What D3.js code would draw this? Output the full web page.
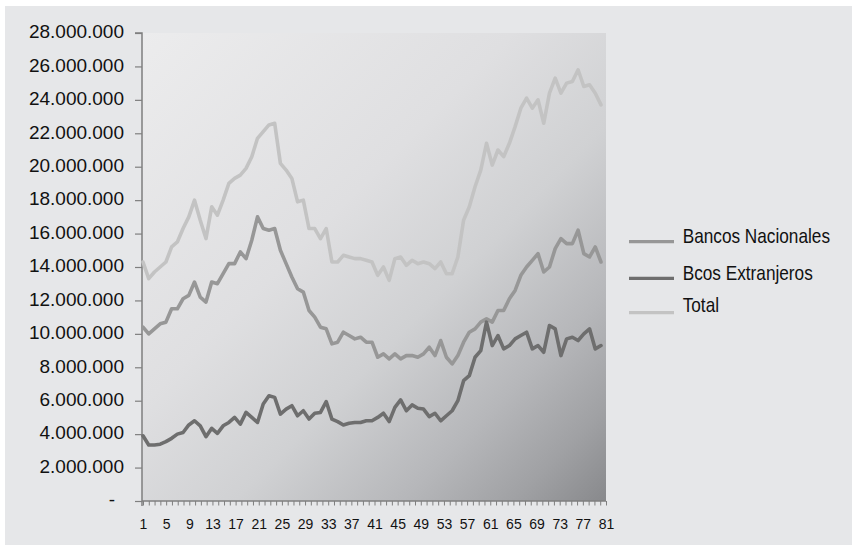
<!DOCTYPE html>
<html>
<head>
<meta charset="utf-8">
<script src="https://cdn.jsdelivr.net/npm/d3@7"></script>
<style>
  html, body { margin: 0; padding: 0; background: #ffffff; }
  svg { display: block; }
  text { font-family: "Liberation Sans", Arial, sans-serif; fill: #111; }
</style>
</head>
<body>
<svg id="chart" width="852" height="550"></svg>
<script>
// Periods 1..81
const periods = d3.range(1, 82);

// Deposits by bank group (millions, scaled to units below)
const bancosNacionales = [
  10.4, 10.0, 10.3, 10.6, 10.7, 11.5, 11.5, 12.1, 12.3, 13.1,
  12.2, 11.9, 13.1, 13.0, 13.6, 14.2, 14.2, 14.9, 14.5, 15.6,
  17.0, 16.3, 16.2, 16.3, 15.0, 14.2, 13.4, 12.7, 12.5, 11.4,
  11.0, 10.4, 10.3, 9.4, 9.5, 10.1, 9.9, 9.7, 9.8, 9.5,
  9.5, 8.6, 8.8, 8.5, 8.8, 8.5, 8.7, 8.7, 8.6, 8.8,
  9.2, 8.7, 9.6, 8.6, 8.2, 8.7, 9.5, 10.1, 10.3, 10.7,
  10.9, 10.7, 11.4, 11.4, 12.1, 12.6, 13.5, 14.0, 14.4, 14.8,
  13.7, 14.0, 15.1, 15.7, 15.4, 15.4, 16.2, 14.8, 14.6, 15.2,
  14.3
].map(v => v * 1e6);

const bcosExtranjeros = [
  3.9, 3.35, 3.35, 3.4, 3.55, 3.75, 4.0, 4.1, 4.55, 4.8,
  4.5, 3.85, 4.35, 4.05, 4.5, 4.7, 5.0, 4.6, 5.3, 5.0,
  4.7, 5.8, 6.3, 6.2, 5.2, 5.5, 5.7, 5.1, 5.4, 4.9,
  5.25, 5.3, 5.95, 4.9, 4.75, 4.55, 4.65, 4.7, 4.7, 4.8,
  4.8, 5.0, 5.25, 4.75, 5.6, 6.05, 5.4, 5.75, 5.55, 5.5,
  5.05, 5.25, 4.8, 5.1, 5.4, 6.0, 7.2, 7.5, 8.6, 9.0,
  10.7, 9.3, 9.9, 9.1, 9.3, 9.7, 9.9, 10.1, 9.1, 9.3,
  8.9, 10.5, 10.3, 8.7, 9.7, 9.8, 9.6, 10.0, 10.3, 9.1,
  9.3
].map(v => v * 1e6);

const total = [
  14.3, 13.3, 13.7, 14.0, 14.3, 15.2, 15.5, 16.3, 17.0, 18.0,
  16.8, 15.7, 17.6, 17.1, 18.0, 19.0, 19.3, 19.5, 19.9, 20.6,
  21.7, 22.1, 22.5, 22.6, 20.2, 19.8, 19.3, 17.9, 18.0, 16.3,
  16.3, 15.7, 16.3, 14.3, 14.3, 14.7, 14.6, 14.5, 14.5, 14.4,
  14.3, 13.5, 14.0, 13.2, 14.5, 14.6, 14.1, 14.4, 14.2, 14.3,
  14.2, 13.9, 14.3, 13.6, 13.6, 14.6, 16.8, 17.6, 18.8, 19.8,
  21.4, 20.1, 21.0, 20.6, 21.4, 22.4, 23.5, 24.1, 23.5, 24.0,
  22.6, 24.4, 25.3, 24.4, 25.0, 25.1, 25.8, 24.8, 24.9, 24.4,
  23.7
].map(v => v * 1e6);

const seriesNames = ["Bancos Nacionales", "Bcos Extranjeros", "Total"];
const seriesColors = ["#979797", "#6e6e6e", "#c3c3c3"];

// Axis ticks
const yTicks = d3.range(0, 28000001, 2000000);
const xTicks = d3.range(1, 82);
const xLabelTicks = d3.range(1, 82, 4);

const svg = d3.select("#chart");

// Chart panel
svg.append("rect")
  .attr("x", 5).attr("y", 6).attr("width", 847).attr("height", 539)
  .attr("fill", "#e6e7e9");

const plot = { left: 142, top: 33, right: 606, bottom: 501 };

// Point positions and category-axis positions
const x = d3.scaleLinear().domain([1, 81]).range([143, 601]);
const xAxisScale = d3.scaleLinear().domain([1, 81]).range([143, 606]);
const y = d3.scaleLinear().domain([0, 28000000]).range([plot.bottom, plot.top]);

// Plot-area shading
const defs = svg.append("defs");
const grad = defs.append("linearGradient")
  .attr("id", "plotShade")
  .attr("x1", 0).attr("y1", 0).attr("x2", 1).attr("y2", 1);
[[0, "#ececed"], [0.4, "#dfdfe1"], [0.6, "#d0d1d3"], [0.78, "#b6b7ba"], [0.9, "#a0a1a4"], [1, "#88898c"]]
  .forEach(([o, c]) => grad.append("stop").attr("offset", o).attr("stop-color", c));

svg.append("rect")
  .attr("x", plot.left).attr("y", plot.top)
  .attr("width", plot.right - plot.left).attr("height", plot.bottom - plot.top)
  .attr("fill", "url(#plotShade)");

// Y axis
const loc = d3.formatLocale({ decimal: ",", thousands: ".", grouping: [3], currency: ["", ""] });
const fmt = loc.format(",d");
const yAxis = d3.axisLeft(y)
  .tickValues(yTicks)
  .tickSize(7)
  .tickPadding(11)
  .tickFormat(d => d === 0 ? "-" : fmt(d));

const gy = svg.append("g").attr("transform", `translate(${plot.left},0)`).call(yAxis);
gy.select(".domain").attr("stroke", "#7f7f7f").attr("stroke-width", 1.5)
  .attr("d", `M-7,${plot.top}H0V${plot.bottom + 5}`);
gy.selectAll(".tick line").attr("stroke", "#7f7f7f").attr("stroke-width", 1.2);
gy.selectAll(".tick text")
  .attr("font-size", 19)
  .attr("font-family", "Liberation Sans, Arial, sans-serif")
  .attr("fill", "#111")
  .attr("dy", "0.25em");
gy.selectAll(".tick").filter(d => d === 0).select("text").attr("dx", -9);

// X axis
const xAxis = d3.axisBottom(xAxisScale)
  .tickValues(xTicks)
  .tickSize(4.5)
  .tickPadding(14)
  .tickFormat(d => xLabelTicks.includes(d) ? String(d) : "");

const gx = svg.append("g").attr("transform", `translate(0,${plot.bottom})`).call(xAxis);
gx.select(".domain").attr("stroke", "#7f7f7f").attr("stroke-width", 1.5)
  .attr("d", `M${plot.left},0H${plot.right}`);
gx.selectAll(".tick line").attr("stroke", "#7f7f7f").attr("stroke-width", 1);
gx.selectAll(".tick text")
  .attr("font-size", 14)
  .attr("font-family", "Liberation Sans, Arial, sans-serif")
  .attr("fill", "#111");

// Series lines
const seriesData = [bancosNacionales, bcosExtranjeros, total];
const line = d3.line()
  .x((d, i) => x(periods[i]))
  .y(d => y(d));

const drawOrder = [2, 0, 1];
drawOrder.forEach(k => {
  svg.append("path")
    .datum(seriesData[k])
    .attr("fill", "none")
    .attr("stroke", seriesColors[k])
    .attr("stroke-width", 3.6)
    .attr("stroke-linejoin", "round")
    .attr("stroke-linecap", "round")
    .attr("d", line);
});

// Legend
const legendRows = [241.7, 278.3, 312.7];
const legendBase = [243.3, 280, 311.7];
const legend = svg.append("g");
seriesNames.forEach((name, k) => {
  legend.append("line")
    .attr("x1", 629).attr("x2", 674)
    .attr("y1", legendRows[k]).attr("y2", legendRows[k])
    .attr("stroke", seriesColors[k]).attr("stroke-width", 3.3);
  legend.append("text")
    .attr("transform", `translate(682.7,${legendBase[k]}) scale(0.82,1)`)
    .attr("font-size", 21)
    .text(name);
});
</script>
</body>
</html>
